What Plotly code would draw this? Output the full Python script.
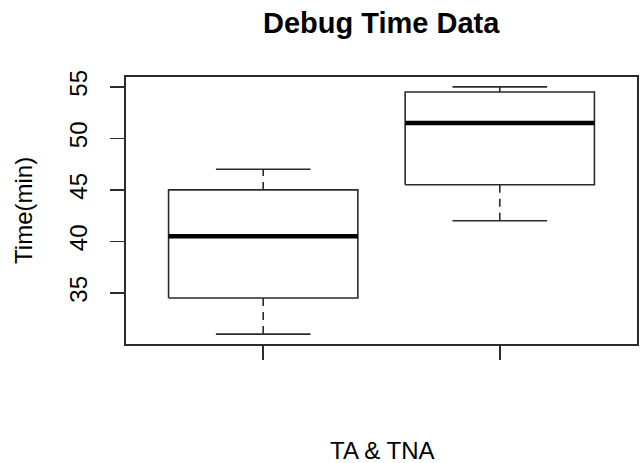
import plotly.graph_objects as go

# Data
groups = ["TA", "TNA"]
positions = [1, 2]
lower_whisker = [31, 42]
q1 = [34.5, 45.5]
median = [40.5, 51.5]
q3 = [45, 54.5]
upper_whisker = [47, 55]
y_ticks = [35, 40, 45, 50, 55]

BOX_W = 0.8      # R default boxwex
CAP_W = 0.4      # staplewex 0.5 * box width
LINE = "#2b2b2b"

box_x, box_y = [], []
med_x, med_y = [], []
wh_x, wh_y = [], []
cap_x, cap_y = [], []
for c, lo, a, m, b, hi in zip(positions, lower_whisker, q1, median, q3, upper_whisker):
    l, r = c - BOX_W / 2, c + BOX_W / 2
    box_x += [l, r, r, l, l, None]
    box_y += [a, a, b, b, a, None]
    med_x += [l, r, None]
    med_y += [m, m, None]
    wh_x += [c, c, None, c, c, None]
    wh_y += [b, hi, None, a, lo, None]
    cap_x += [c - CAP_W / 2, c + CAP_W / 2, None, c - CAP_W / 2, c + CAP_W / 2, None]
    cap_y += [hi, hi, None, lo, lo, None]

fig = go.Figure()
fig.add_trace(go.Scatter(x=wh_x, y=wh_y, mode="lines",
                         line=dict(color=LINE, width=1.6, dash="8px,6px"),
                         hoverinfo="skip", showlegend=False))
fig.add_trace(go.Scatter(x=cap_x, y=cap_y, mode="lines",
                         line=dict(color=LINE, width=1.6),
                         hoverinfo="skip", showlegend=False))
fig.add_trace(go.Scatter(x=box_x, y=box_y, mode="lines",
                         line=dict(color=LINE, width=1.6),
                         hoverinfo="skip", showlegend=False))
fig.add_trace(go.Scatter(x=med_x, y=med_y, mode="lines",
                         line=dict(color="black", width=4.5),
                         hoverinfo="skip", showlegend=False))

FONT = "Liberation Sans, Arial, Helvetica, sans-serif"

fig.update_layout(
    width=644, height=463,
    margin=dict(l=126, r=5, t=77, b=119),
    paper_bgcolor="white", plot_bgcolor="white",
    font=dict(family=FONT, size=24, color="black"),
    showlegend=False,
    xaxis=dict(range=[0.42, 2.58], tickvals=positions, ticktext=["", ""],
               ticks="outside", ticklen=14, tickwidth=1.6, tickcolor=LINE,
               showgrid=False, zeroline=False,
               showline=True, mirror=True, linecolor=LINE, linewidth=1.6),
    yaxis=dict(range=[30.04, 55.96], tickvals=y_ticks,
               ticktext=[str(v) for v in y_ticks], tickangle=-90,
               ticks="outside", ticklen=14, tickwidth=1.6, tickcolor=LINE,
               ticklabelstandoff=14,
               showgrid=False, zeroline=False,
               showline=True, mirror=True, linecolor=LINE, linewidth=1.6,
               tickfont=dict(size=24)),
    annotations=[
        dict(text="<b>Debug Time Data</b>", xref="paper", yref="paper",
             x=0.5, y=1 + (77 - 23) / 267, xanchor="center", yanchor="middle",
             showarrow=False, font=dict(size=29, family=FONT)),
        dict(text="Time(min)", xref="paper", yref="paper",
             x=(23 - 126) / 513, y=0.5, xanchor="center", yanchor="middle",
             textangle=-90, showarrow=False, font=dict(size=24, family=FONT)),
        dict(text="TA &amp; TNA", xref="paper", yref="paper",
             x=0.5, y=(344 - 450) / 267, xanchor="center", yanchor="middle",
             showarrow=False, font=dict(size=24, family=FONT)),
    ],
)

fig.write_html("out.html",
               config={"displayModeBar": False, "staticPlot": True},
               post_script="document.body.style.margin='0px';document.body.style.overflow='hidden';")
